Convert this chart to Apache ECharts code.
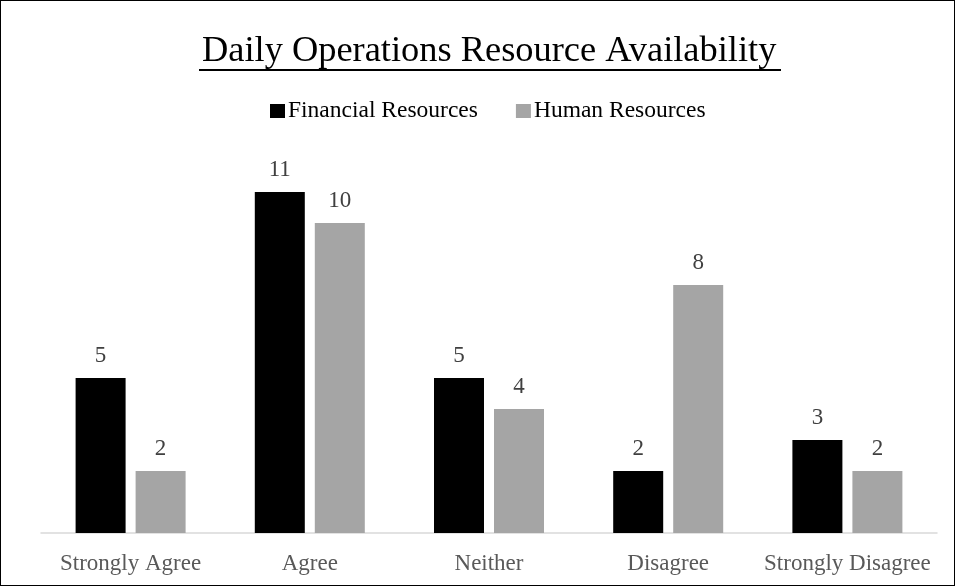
<!DOCTYPE html>
<html>
<head>
<meta charset="utf-8">
<script src="https://cdn.jsdelivr.net/npm/echarts@6/dist/echarts.min.js"></script>
<style>
  html, body { margin: 0; padding: 0; background: #fff; }
  #chart { width: 955px; height: 586px; box-sizing: border-box; border: 1px solid #000; }
</style>
</head>
<body>
<div id="chart"></div>
<script>
// categories and values
let categories = ['Strongly Agree', 'Agree', 'Neither', 'Disagree', 'Strongly Disagree'];
let financial = [5, 11, 5, 2, 3];
let human = [2, 10, 4, 8, 2];

let serif = '"Liberation Serif", "Times New Roman", serif';
let myChart = echarts.init(document.getElementById('chart'));

let labelStyle = {
    show: true,
    position: 'top',
    distance: 11,
    fontFamily: serif,
    fontSize: 23,
    color: '#404040'
};

let option = {
    animation: false,
    title: {
        text: 'Daily Operations Resource Availability',
        left: 196,
        top: 27,
        textStyle: {
            fontFamily: serif,
            fontSize: 36.4,
            fontWeight: 'normal',
            color: '#000'
        }
    },
    // underline under the title
    graphic: [{
        type: 'rect',
        left: 198,
        top: 68,
        shape: { width: 582, height: 2 },
        style: { fill: '#000' }
    }],
    legend: {
        top: 93,
        left: 264,
        itemWidth: 15,
        itemHeight: 14,
        itemGap: 38,
        icon: 'rect',
        textStyle: {
            fontFamily: serif,
            fontSize: 23.5,
            color: '#000',
            padding: [0, 0, 0, -2]
        },
        data: ['Financial Resources', 'Human Resources']
    },
    grid: {
        left: 40,
        right: 17,
        top: 160,
        bottom: 52
    },
    xAxis: {
        type: 'category',
        data: categories,
        axisLine: { lineStyle: { color: '#d9d9d9', width: 1.5 } },
        axisTick: { show: false },
        axisLabel: {
            fontFamily: serif,
            fontSize: 23,
            color: '#595959',
            margin: 19,
            interval: 0
        }
    },
    yAxis: {
        type: 'value',
        min: 0,
        max: 12,
        show: false,
        splitLine: { show: false }
    },
    series: [
        {
            name: 'Financial Resources',
            type: 'bar',
            data: financial,
            barWidth: 50,
            barGap: '20%',
            itemStyle: { color: '#000' },
            label: labelStyle
        },
        {
            name: 'Human Resources',
            type: 'bar',
            data: human,
            barWidth: 50,
            itemStyle: { color: '#a5a5a5' },
            label: labelStyle
        }
    ]
};
myChart.setOption(option);
</script>
</body>
</html>
